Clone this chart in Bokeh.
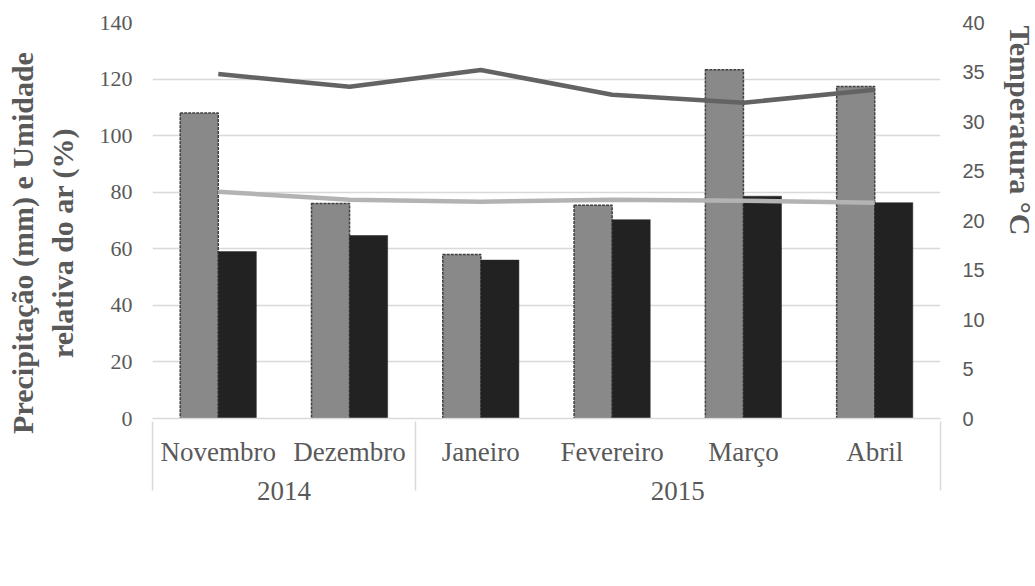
from bokeh.plotting import figure
from bokeh.models import (FactorRange, Range1d, LinearAxis, FixedTicker, Legend, LegendItem,
                          ColumnDataSource, CategoricalAxis)
from bokeh.transform import dodge
from bokeh.embed import file_html
from bokeh.resources import INLINE

# ---- data ----
years = ["2014", "2014", "2015", "2015", "2015", "2015"]
months = ["Novembro", "Dezembro", "Janeiro", "Fevereiro", "Março", "Abril"]
mm = [108, 76, 58, 75.4, 123.3, 117.4]
ur = [59, 64.7, 56, 70.3, 78.6, 76.3]
t_max = [34.8, 33.5, 35.2, 32.7, 31.9, 33.2]
t_min = [22.9, 22.1, 21.9, 22.1, 22.0, 21.8]
left_ticks = [0, 20, 40, 60, 80, 100, 120, 140]
right_ticks = [0, 5, 10, 15, 20, 25, 30, 35, 40]

TXT = "#595959"
GRID = "#d9d9d9"
SERIF = "Liberation Serif"
NB = "\u00a0"

factors = list(zip(years, months))
pad_factors = [(" ", " ")] + factors + [("  ", " ")]

x_range = FactorRange(*pad_factors, factor_padding=0, group_padding=0, subgroup_padding=0,
                      range_padding=-0.999, range_padding_units="absolute")

p = figure(frame_width=788, frame_height=396, x_range=x_range, y_range=Range1d(0, 140),
           output_backend="svg", toolbar_location=None,
           min_border_left=152, min_border_right=95, min_border_top=22, min_border_bottom=10,
           x_axis_location=None, y_axis_location=None)
p.extra_y_ranges = {"temp": Range1d(0, 40)}
p.outline_line_color = None
p.background_fill_color = "white"
p.border_fill_color = "white"

src = ColumnDataSource(dict(x=factors, mm=mm, ur=ur, tmax=t_max, tmin=t_min))

r_mm = p.vbar(x=dodge("x", -0.145, range=p.x_range), top="mm", width=0.29, source=src,
              fill_color="#898989", line_color="#404040", line_width=1.5, line_dash="3 1")
r_ur = p.vbar(x=dodge("x", 0.145, range=p.x_range), top="ur", width=0.29, source=src,
              fill_color="#222222", line_color="#222222", line_width=0.5)
r_max = p.line(x="x", y="tmax", source=src, y_range_name="temp", line_color="#636363", line_width=4.5)
r_min = p.line(x="x", y="tmin", source=src, y_range_name="temp", line_color="#b3b3b3", line_width=4.5)

# axes
xax = CategoricalAxis(axis_line_color=GRID, axis_line_width=1.5,
                      major_tick_line_color=None, minor_tick_line_color=None,
                      major_label_text_font=SERIF, major_label_text_font_size="27px",
                      major_label_text_color=TXT, major_label_standoff=12,
                      group_text_font=SERIF, group_text_font_size="27px", group_text_color=TXT,
                      group_text_font_style="normal",
                      separator_line_color=GRID, separator_line_width=1.5)
p.add_layout(xax, "below")

yl = LinearAxis(ticker=FixedTicker(ticks=left_ticks), axis_line_color=None,
                major_tick_line_color=None, minor_tick_line_color=None,
                major_label_text_font=SERIF, major_label_text_font_size="22px",
                major_label_text_color=TXT, major_label_standoff=14,
                axis_label="Precipitação (mm) e Umidade" + NB * 6 + "\nrelativa do ar (%)" + NB * 6,
                axis_label_text_font=SERIF, axis_label_text_font_size="30px",
                axis_label_text_font_style="bold", axis_label_text_color=TXT,
                axis_label_standoff=18)
p.add_layout(yl, "left")

yr = LinearAxis(y_range_name="temp", ticker=FixedTicker(ticks=right_ticks), axis_line_color=None,
                major_tick_line_color=None, minor_tick_line_color=None,
                major_label_text_font="Liberation Sans", major_label_text_font_size="20px",
                major_label_text_color=TXT, major_label_standoff=16,
                axis_label="Temperatura °C" + NB * 24,
                axis_label_text_font=SERIF, axis_label_text_font_size="30px",
                axis_label_text_font_style="bold", axis_label_text_color=TXT,
                axis_label_standoff=16)
p.add_layout(yr, "right")

p.xgrid.grid_line_color = None
p.ygrid.grid_line_color = GRID
p.ygrid.grid_line_width = 1.5
p.ygrid.ticker = FixedTicker(ticks=left_ticks)

legend = Legend(items=[LegendItem(label="mm", renderers=[r_mm]),
                       LegendItem(label="UR%", renderers=[r_ur]),
                       LegendItem(label="T°C Max", renderers=[r_max]),
                       LegendItem(label="T°C Min", renderers=[r_min])],
                orientation="horizontal", location="center",
                label_text_font=SERIF, label_text_font_size="27px", label_text_color=TXT,
                glyph_width=51, glyph_height=17, label_standoff=6, spacing=32,
                padding=0, margin=0, border_line_color=None, background_fill_alpha=0)
p.add_layout(legend, "below")

open("out.html", "w").write(file_html(p, INLINE))
